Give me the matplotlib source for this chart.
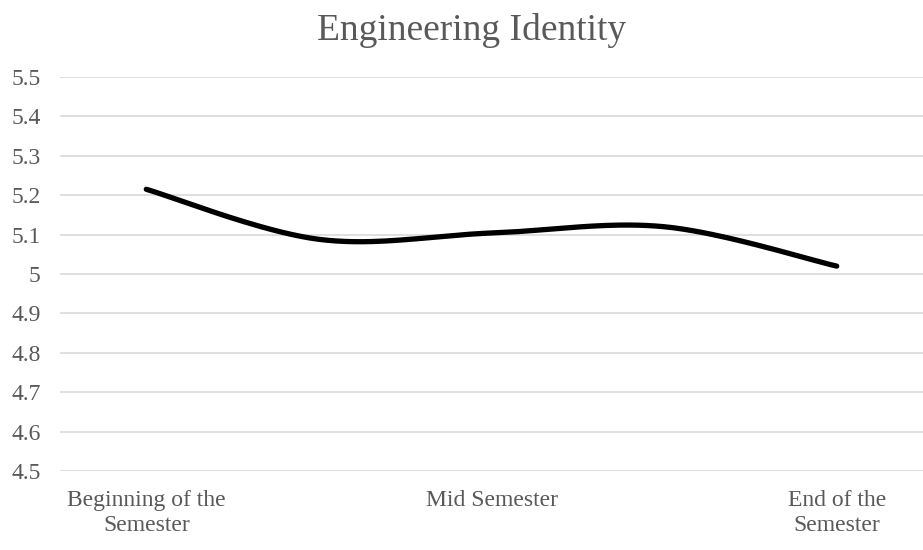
#!/usr/bin/env python3
"""
Engineering Identity - smoothed line chart
"""

import numpy as np
import matplotlib
matplotlib.use("Agg")
import matplotlib.pyplot as plt

# category labels (5 time points, only three are labelled)
categories = ["Beginning of the\nSemester", "", "Mid Semester", "", "End of the\nSemester"]
identity_mean = [5.215, 5.088, 5.104, 5.12, 5.02]
y_ticks = [4.5, 4.6, 4.7, 4.8, 4.9, 5.0, 5.1, 5.2, 5.3, 5.4, 5.5]
y_tick_labels = ["4.5", "4.6", "4.7", "4.8", "4.9", "5", "5.1", "5.2", "5.3", "5.4", "5.5"]


def smooth_curve(x, y, steps=40):
    """Catmull-Rom style smoothing (like Excel's smoothed line)"""
    x = np.asarray(x, dtype=float)
    y = np.asarray(y, dtype=float)
    n = len(x)
    xs, ys = [], []
    for i in range(n - 1):
        p0 = (x[max(i - 1, 0)], y[max(i - 1, 0)])
        p1 = (x[i], y[i])
        p2 = (x[i + 1], y[i + 1])
        p3 = (x[min(i + 2, n - 1)], y[min(i + 2, n - 1)])
        c1 = (p1[0] + (p2[0] - p0[0]) / 6, p1[1] + (p2[1] - p0[1]) / 6)
        c2 = (p2[0] - (p3[0] - p1[0]) / 6, p2[1] - (p3[1] - p1[1]) / 6)
        t = np.linspace(0, 1, steps)
        for k, out in ((0, xs), (1, ys)):
            b = ((1 - t) ** 3 * p1[k] + 3 * (1 - t) ** 2 * t * c1[k]
                 + 3 * (1 - t) * t ** 2 * c2[k] + t ** 3 * p2[k])
            out.extend(b if i == 0 else b[1:])
    return np.array(xs), np.array(ys)


plt.rcParams["font.family"] = ["Liberation Serif", "DejaVu Serif"]

fig = plt.figure(figsize=(9.23, 5.5), dpi=100)
ax = fig.add_axes([60 / 923, 1 - 471 / 550, 863 / 923, 394 / 550])

pos = np.arange(len(categories))
sx, sy = smooth_curve(pos, identity_mean)
ax.plot(sx, sy, color="black", linewidth=3.8, solid_capstyle="round")

ax.set_xlim(-0.5, len(categories) - 0.5)
ax.set_ylim(4.5, 5.5)
ax.set_yticks(y_ticks)
ax.set_yticklabels(y_tick_labels)
ax.set_xticks(pos)
ax.set_xticklabels(categories, linespacing=1.2)
ax.yaxis.grid(True, color="#d9d9d9", linewidth=1.2)
ax.set_axisbelow(True)
for s in ax.spines.values():
    s.set_visible(False)
ax.tick_params(axis="both", length=0, labelsize=17, colors="#595959")
ax.tick_params(axis="x", pad=14)
ax.tick_params(axis="y", pad=14)

fig.text(472 / 923, 1 - 30 / 550, "Engineering Identity", ha="center", va="center",
         fontsize=27, color="#595959")

fig.savefig("out.png", dpi=100)
